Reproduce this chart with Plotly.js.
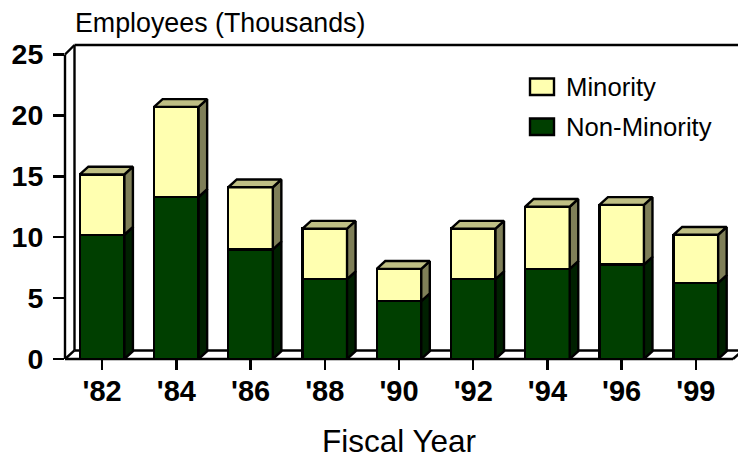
<!DOCTYPE html>
<html><head><meta charset="utf-8">
<script src="https://cdn.plot.ly/plotly-3.0.1.min.js"></script>
<style>html,body{margin:0;padding:0;background:#fff}</style>
</head><body><div id="chart" style="width:738px;height:459px"></div>
<script>
const categories = ["'82","'84","'86","'88","'90","'92","'94","'96","'99"];
const nonMinority = [10.2,13.3,9.0,6.55,4.75,6.55,7.4,7.75,6.25];
const minority = [4.95,7.4,5.1,4.15,2.65,4.15,5.1,4.9,3.95];
const seriesNames = ["Minority","Non-Minority"];
const yTicks = [0,5,10,15,20,25];
const colYellow = "#FFFFB0", colGreen = "#003F00";
const colYellowSide = "#7F7F58", colGreenSide = "#002000", colTop = "#BFBF84";
const black = "#000";
const lw = 2.4;
const barW = 0.6, depthX = 0.115, depthY = 0.64;
const wallX = 0.128, wallY = 0.7, wallTop = 25.78;
const yMax = 319/12.18;
const idx = categories.map((_, i) => i);

function polys(fn){const xs=[],ys=[];idx.forEach(i=>{fn(i).forEach(p=>{xs.push(p[0]);ys.push(p[1]);});xs.push(null);ys.push(null);});return {x:xs,y:ys};}
const side=(lo,hi)=>i=>{const r=i+barW/2,a=lo(i),b=hi(i);return [[r,a],[r+depthX,a+depthY],[r+depthX,b+depthY],[r,b],[r,a]];};
const total=i=>nonMinority[i]+minority[i];
const face=(p,color)=>({type:"scatter",mode:"lines",x:p.x,y:p.y,fill:"toself",fillcolor:color,line:{color:black,width:lw},hoverinfo:"skip",showlegend:false,cliponaxis:false});

const traces=[
 {type:"bar",name:seriesNames[1],x:idx,y:nonMinority,width:barW,marker:{color:colGreen,line:{color:black,width:lw}}},
 {type:"bar",name:seriesNames[0],x:idx,y:minority,width:barW,marker:{color:colYellow,line:{color:black,width:lw}}},
 face(polys(side(()=>0,i=>nonMinority[i])),colGreenSide),
 face(polys(side(i=>nonMinority[i],total)),colYellowSide),
 face(polys(i=>{const l=i-barW/2,r=i+barW/2,t=total(i);return [[l,t],[l+depthX,t+depthY],[r+depthX,t+depthY],[r,t],[l,t]];}),colTop)
];
const px=x=>(x+0.5)/9, py=y=>y/yMax;
const line=(x0,y0,x1,y1)=>({type:"line",xref:"paper",yref:"paper",x0:px(x0),y0:py(y0),x1:px(x1),y1:py(y1),layer:"below",line:{color:black,width:lw}});
const shapes=[
 line(-0.5,0,-0.5,25),
 line(-0.5,25,-0.5+wallX,wallTop),
 line(-0.5,0,-0.5+wallX,wallY),
 line(-0.5+wallX,wallY,-0.5+wallX,wallTop),
 line(-0.5+wallX,wallTop,8.5+wallX,wallTop),
 line(-0.5+wallX,wallY,8.5+wallX,wallY),
 line(8.5,0,8.5+wallX,wallY),
 line(-0.5,0,8.5,0),
 {type:"rect",xref:"paper",yref:"paper",x0:(530-65)/668,x1:(554-65)/668,y0:(359-95)/319,y1:(359-78.5)/319,fillcolor:colYellow,line:{color:black,width:lw},layer:"above"},
 {type:"rect",xref:"paper",yref:"paper",x0:(530-65)/668,x1:(554-65)/668,y0:(359-135)/319,y1:(359-118.5)/319,fillcolor:colGreen,line:{color:black,width:lw},layer:"above"}
];
const legendText=(t,p)=>({text:t,xref:"paper",yref:"paper",x:(566-65)/668,y:(359-p)/319,xanchor:"left",yanchor:"middle",showarrow:false,xshift:-2,font:{family:"Liberation Sans, Arial, sans-serif",size:25.7,color:"#000"}});
const layout={
 width:738,height:459,barmode:"stack",showlegend:false,
 paper_bgcolor:"#fff",plot_bgcolor:"rgba(0,0,0,0)",
 margin:{l:65,r:5,t:40,b:100,pad:0},
 font:{family:"Liberation Sans, Arial, sans-serif",color:"#000"},
 title:{text:"Employees (Thousands)",x:75/738,xanchor:"left",y:0.951,yanchor:"middle",font:{size:26.8,color:"#000"}},
 xaxis:{range:[-0.5,8.5],automargin:"height",tickmode:"array",tickvals:idx,ticktext:categories.map(c=>"<b>"+c+"</b>"),ticks:"outside",ticklen:10,tickwidth:lw,tickcolor:black,ticklabelstandoff:-4,
   showgrid:false,zeroline:false,showline:false,tickfont:{size:29,color:"#000"},fixedrange:true,
   title:{text:"Fiscal Year",standoff:25,font:{size:31.5,color:"#000"}}},
 yaxis:{range:[0,yMax],tickmode:"array",tickvals:yTicks,ticktext:yTicks.map(v=>"<b>"+v+"</b>"),ticks:"outside",ticklen:11,tickwidth:lw,tickcolor:black,ticklabelstandoff:4,
   showgrid:false,zeroline:false,showline:false,tickfont:{size:28.5,color:"#000"},fixedrange:true},
 shapes,
 annotations:[legendText(seriesNames[0],87),legendText(seriesNames[1],127)]
};
Plotly.newPlot("chart",traces,layout,{displayModeBar:false,staticPlot:true});
</script></body></html>
